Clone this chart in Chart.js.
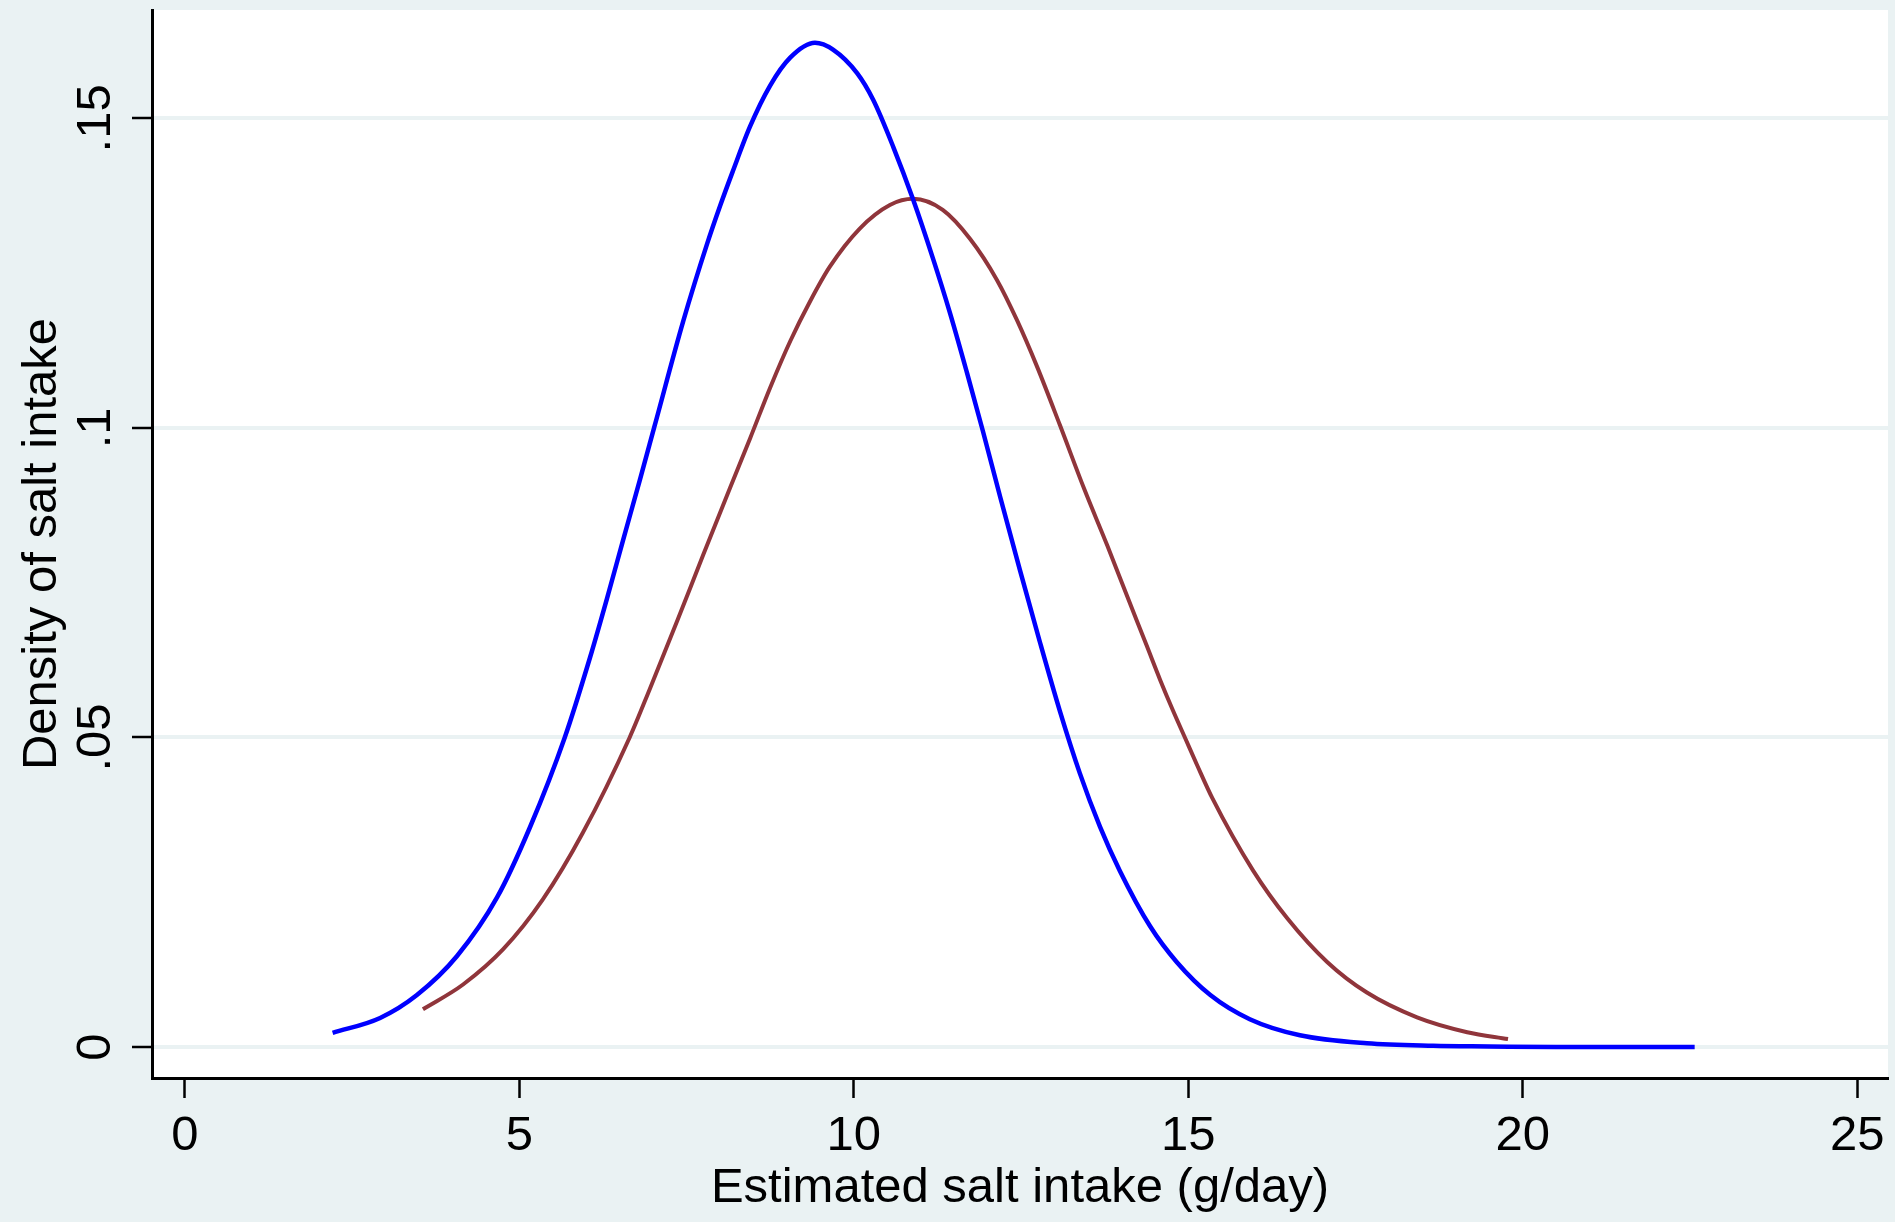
<!DOCTYPE html>
<html>
<head>
<meta charset="utf-8">
<script src="https://cdn.jsdelivr.net/npm/chart.js@4.4.1/dist/chart.umd.min.js"></script>
<style>
  html, body { margin: 0; padding: 0; background: #EAF2F3; }
  #wrap { width: 1895px; height: 1222px; position: relative; }
</style>
</head>
<body>
<div id="wrap"><canvas id="chart"></canvas></div>
<script>
// density curves
const blueX = [2.21, 2.92, 3.47, 4.07, 4.67, 5.16, 5.68, 6.06, 6.31, 6.55, 6.80, 7.02, 7.45, 7.81, 8.00, 8.19, 8.45, 8.75, 9.05, 9.42, 9.69, 10.05, 10.29, 10.59, 10.89, 11.18, 11.44, 11.69, 11.93, 12.19, 12.48, 12.78, 13.08, 13.38, 13.68, 13.98, 14.43, 14.83, 15.33, 15.92, 16.67, 17.67, 18.66, 19.5, 20.5, 22.57];
const blueY = [0.0023, 0.0047, 0.0084, 0.0147, 0.0242, 0.0355, 0.0500, 0.0630, 0.0724, 0.0818, 0.0915, 0.1002, 0.1172, 0.1298, 0.1358, 0.1414, 0.1487, 0.1553, 0.1598, 0.1622, 0.1611, 0.1573, 0.1530, 0.1454, 0.1368, 0.1275, 0.1185, 0.1090, 0.0995, 0.0888, 0.0772, 0.0655, 0.0543, 0.0442, 0.0356, 0.0284, 0.0195, 0.0137, 0.0084, 0.0045, 0.0019, 0.0006, 0.0002, 0.0001, 0.0000, 0.0000];

const redX = [3.56, 4.16, 4.76, 5.35, 5.95, 6.65, 6.95, 7.36, 7.75, 8.15, 8.45, 8.75, 9.05, 9.35, 9.64, 10.09, 10.54, 10.89, 11.33, 11.74, 12.14, 12.44, 12.74, 13.08, 13.45, 13.79, 14.08, 14.38, 14.58, 14.77, 14.95, 15.13, 15.36, 15.97, 16.48, 17.08, 17.67, 18.42, 19.17, 19.78];
const redY = [0.0061, 0.0101, 0.0158, 0.0238, 0.0346, 0.0500, 0.0578, 0.0688, 0.0795, 0.0903, 0.0983, 0.1065, 0.1140, 0.1205, 0.1260, 0.1322, 0.1360, 0.1370, 0.1352, 0.1305, 0.1239, 0.1174, 0.1099, 0.1005, 0.0900, 0.0810, 0.0730, 0.0648, 0.0593, 0.0544, 0.0500, 0.0456, 0.0402, 0.0285, 0.0208, 0.0137, 0.0088, 0.0048, 0.0024, 0.0013];

const xTicks = [0, 5, 10, 15, 20, 25];
const yTicks = [0, 0.05, 0.1, 0.15];
const yTickLabels = ['0', '.05', '.1', '.15'];

const xTitle = 'Estimated salt intake (g/day)';
const yTitle = 'Density of salt intake';

const FONT = "'Liberation Sans', Arial, sans-serif";
const BG = '#EAF2F3';

function toPoints(xs, ys) {
  return xs.map((x, i) => ({ x: x, y: ys[i] }));
}

const stataLook = {
  id: 'stataLook',
  beforeDraw(chart) {
    const { ctx, chartArea } = chart;
    ctx.save();
    ctx.fillStyle = BG;
    ctx.fillRect(0, 0, chart.width, chart.height);
    ctx.fillStyle = '#FFFFFF';
    ctx.fillRect(chartArea.left, chartArea.top, chartArea.right - chartArea.left, chartArea.bottom - chartArea.top);
    ctx.restore();
  },
  afterDraw(chart) {
    const { ctx, chartArea } = chart;
    const ys = chart.scales.y;
    ctx.save();
    ctx.fillStyle = '#000000';
    ctx.font = '49px ' + FONT;
    ctx.textAlign = 'center';
    ctx.textBaseline = 'alphabetic';

    // rotated y tick labels
    yTicks.forEach((v, i) => {
      const py = ys.getPixelForValue(v);
      ctx.save();
      ctx.translate(110, py);
      ctx.rotate(-Math.PI / 2);
      ctx.fillText(yTickLabels[i], 0, 0);
      ctx.restore();
    });

    // y title
    ctx.save();
    ctx.translate(56, (chartArea.top + chartArea.bottom) / 2);
    ctx.rotate(-Math.PI / 2);
    ctx.fillText(yTitle, 0, 0);
    ctx.restore();

    // x title
    ctx.fillText(xTitle, (chartArea.left + chartArea.right) / 2, 1202);
    ctx.restore();
  }
};

new Chart(document.getElementById('chart'), {
  type: 'line',
  data: {
    datasets: [
      {
        label: 'blue',
        data: toPoints(blueX, blueY),
        borderColor: '#0000FF',
        borderWidth: 4.5,
        pointRadius: 0,
        cubicInterpolationMode: 'monotone',
        fill: false
      },
      {
        label: 'maroon',
        data: toPoints(redX, redY),
        borderColor: '#90353B',
        borderWidth: 4,
        pointRadius: 0,
        cubicInterpolationMode: 'monotone',
        fill: false
      }
    ]
  },
  options: {
    responsive: true,
    maintainAspectRatio: false,
    animation: false,
    layout: { padding: { top: 10, right: 7, left: 0, bottom: 0 } },
    plugins: {
      legend: { display: false },
      tooltip: { enabled: false }
    },
    scales: {
      x: {
        type: 'linear',
        min: -0.49,
        max: 25.46,
        afterBuildTicks: (scale) => { scale.ticks = xTicks.map(v => ({ value: v })); },
        afterFit: (scale) => { scale.height = 144; },
        grid: {
          drawOnChartArea: false,
          drawTicks: true,
          tickLength: 20,
          tickWidth: 2.5,
          tickColor: '#000000'
        },
        border: { display: true, color: '#000000', width: 3 },
        ticks: {
          color: '#000000',
          font: { family: FONT, size: 49 },
          padding: 9,
          maxRotation: 0,
          callback: (v) => String(v)
        }
      },
      y: {
        type: 'linear',
        min: -0.005,
        max: 0.1675,
        afterBuildTicks: (scale) => { scale.ticks = yTicks.map(v => ({ value: v })); },
        afterFit: (scale) => { scale.width = 152; },
        grid: {
          color: BG,
          lineWidth: 4,
          drawTicks: true,
          tickLength: 20,
          tickWidth: 2.5,
          tickColor: '#000000'
        },
        border: { display: true, color: '#000000', width: 3 },
        ticks: { display: false }
      }
    }
  },
  plugins: [stataLook]
});
</script>
</body>
</html>
